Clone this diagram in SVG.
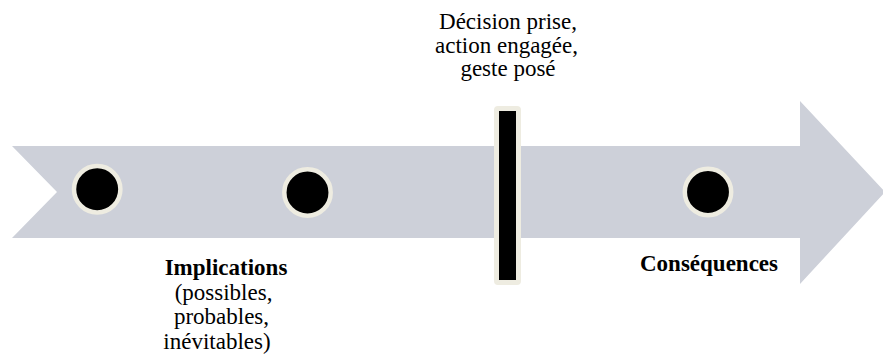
<svg xmlns="http://www.w3.org/2000/svg" width="883" height="360" viewBox="0 0 883 360">
  <style>
    .lbl { font-family: "Times New Roman", "Liberation Serif", "DejaVu Serif", serif; font-size: 23px; fill: #000; text-anchor: middle; }
    .b { font-weight: bold; }
    .dot { fill: #000; stroke: #eeece1; stroke-width: 4.5; }
  </style>
  <rect width="883" height="360" fill="#ffffff"/>

  <!-- timeline arrow with notched tail -->
  <g id="timeline">
    <polygon points="12,146 800,146 800,101 885,192 800,284 800,238 12,238 57,192" fill="#cdd0d9"/>
  </g>

  <g id="point-1">
    <circle class="dot" cx="97.2" cy="189.2" r="23.2"/>
  </g>

  <g id="point-2">
    <circle class="dot" cx="307.5" cy="192.5" r="23.2"/>
  </g>

  <g id="point-3">
    <circle class="dot" cx="708" cy="192" r="23.2"/>
  </g>

  <!-- decision marker -->
  <g id="decision">
    <rect x="496.5" y="108.5" width="22" height="174" rx="1.5" fill="#000" stroke="#eeece1" stroke-width="5"/>
    <text class="lbl" x="508" y="29">Décision prise,</text>
    <text class="lbl" x="506.5" y="53">action engagée,</text>
    <text class="lbl" x="508" y="76">geste posé</text>
  </g>

  <g id="implications">
    <text class="lbl b" x="226" y="275">Implications</text>
    <text class="lbl" x="223.5" y="300">(possibles,</text>
    <text class="lbl" x="221.5" y="324">probables,</text>
    <text class="lbl" x="217" y="349">inévitables)</text>
  </g>

  <g id="consequences">
    <text class="lbl b" x="709" y="271">Conséquences</text>
  </g>

  <g id="connectors"></g>
</svg>
